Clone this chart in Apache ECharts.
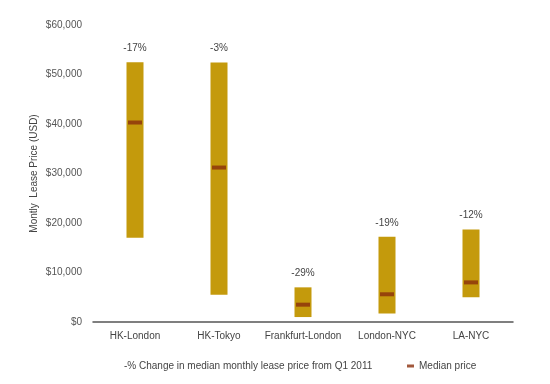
<!DOCTYPE html>
<html><head><meta charset="utf-8">
<script src="https://cdn.jsdelivr.net/npm/echarts@6/dist/echarts.min.js"></script>
<style>html,body{margin:0;padding:0;background:#fff}#c{width:550px;height:384px}</style>
</head><body><div id="c"></div>
<script>
var categories = ['HK-London', 'HK-Tokyo', 'Frankfurt-London', 'London-NYC', 'LA-NYC'];
var lowPrice = [17000, 5500, 1000, 1700, 5000];
var highPrice = [52500, 52400, 7000, 17200, 18700];
var medianPrice = [40300, 31200, 3500, 5600, 8000];
var pctChange = ['-17%', '-3%', '-29%', '-19%', '-12%'];

var rangeSize = highPrice.map(function (h, i) { return h - lowPrice[i]; });
var font = 'Liberation Sans';
var chart = echarts.init(document.getElementById('c'));
chart.setOption({
  animation: false,
  textStyle: { fontFamily: font },
  grid: { left: 93, right: 37, top: 25, bottom: 62 },
  title: {
    text: '-% Change in median monthly lease price from Q1 2011',
    left: 119, top: 356,
    textStyle: { fontFamily: font, fontSize: 10, fontWeight: 'normal', color: '#444' }
  },
  legend: {
    data: [{ name: 'Median price', icon: 'rect' }],
    left: 402, top: 356,
    itemWidth: 7, itemHeight: 3, itemGap: 2,
    textStyle: { fontFamily: font, fontSize: 10, color: '#444' }
  },
  xAxis: {
    type: 'category', data: categories,
    axisLine: { lineStyle: { color: '#555', width: 1.5 } },
    axisTick: { show: false },
    axisLabel: { color: '#444', fontSize: 10, margin: 9, fontFamily: font, interval: 0 }
  },
  yAxis: {
    type: 'value', min: 0, max: 60000, interval: 10000,
    name: 'Montly  Lease Price (USD)', nameLocation: 'middle', nameGap: 54,
    nameMoveOverlap: false,
    nameTextStyle: { color: '#444', fontSize: 10, fontFamily: font },
    axisLine: { show: false }, axisTick: { show: false }, splitLine: { show: false },
    axisLabel: {
      color: '#555', fontSize: 10, margin: 11, fontFamily: font,
      formatter: function (v) { return '$' + v.toLocaleString('en-US'); }
    }
  },
  series: [
    {
      name: 'base', type: 'bar', stack: 'r', data: lowPrice, barWidth: 17,
      itemStyle: { color: 'transparent' }, silent: true
    },
    {
      name: 'Range', type: 'bar', stack: 'r', data: rangeSize, barWidth: 17,
      itemStyle: { color: '#C49A0C' },
      label: {
        show: true, position: 'top', distance: 9, color: '#444', fontSize: 10, fontFamily: font,
        formatter: function (p) { return pctChange[p.dataIndex]; }
      }
    },
    {
      name: 'Median price', type: 'scatter', data: medianPrice,
      symbol: 'rect', symbolSize: [14, 4],
      itemStyle: { color: '#8B2E0B' }, z: 5
    }
  ]
});
</script></body></html>
